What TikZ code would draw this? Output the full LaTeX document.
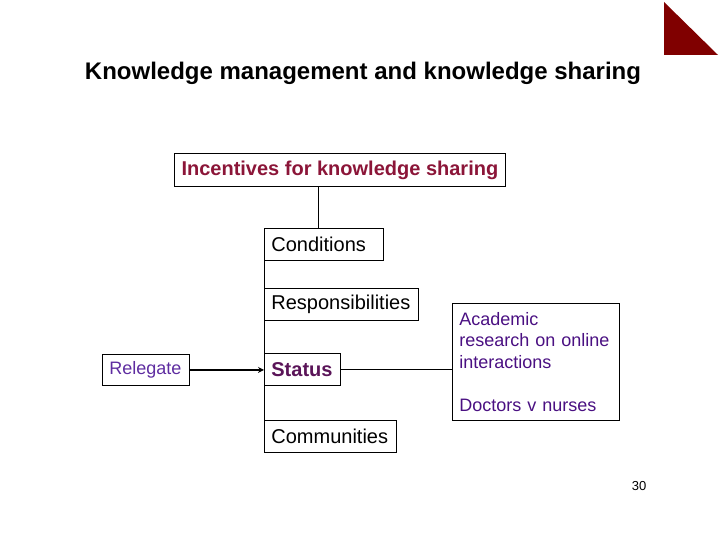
\documentclass[tikz,border=0pt]{standalone}
\usepackage{fontspec}
\setmainfont{Liberation Sans}
\usetikzlibrary{arrows.meta}
\definecolor{maroonT}{HTML}{8B1538}
\definecolor{relC}{HTML}{5E2CA0}
\definecolor{statC}{HTML}{5A1458}
\definecolor{acadC}{HTML}{4A1082}
\definecolor{triC}{HTML}{800000}
\tikzset{
  box/.style={draw=black, line width=0.8pt, anchor=north west, inner ysep=0pt, align=left},
  big/.style={font=\fontsize{20}{24}\selectfont},
  small/.style={font=\fontsize{18}{21.5}\selectfont},
  conn/.style={draw=black, line width=0.8pt}
}
\begin{document}
\begin{tikzpicture}[x=1pt,y=-1pt]
\useasboundingbox (0,0) rectangle (720,540);
\fill[triC] (664,2) -- (664,55) -- (718,55) -- cycle;
\node[font=\bfseries\fontsize{24}{28}\selectfont] (title) at (363,73) {Knowledge management and knowledge sharing};
\node[draw=black, line width=0.8pt, anchor=north west, inner sep=0pt, text=maroonT, font=\bfseries\fontsize{20}{24}\selectfont, minimum width=331pt, minimum height=33pt] (inc) at (174,153) {Incentives for knowledge sharing};
\node[box, big, inner xsep=7pt, text width=105pt, minimum height=32pt] (cond) at (264,228) {Conditions};
\node[box, big, inner xsep=7pt, text width=140pt, minimum height=32pt] (resp) at (264,288) {Responsibilities};
\node[box, big, text=statC, font=\bfseries\fontsize{20}{24}\selectfont, inner xsep=7pt, text width=62pt, minimum height=32pt] (stat) at (264,353) {Status};
\node[box, big, inner xsep=7pt, text width=118pt, minimum height=32pt] (comm) at (264,420) {Communities};
\node[box, small, text=relC, inner xsep=7pt, text width=73pt, minimum height=31pt] (rel) at (102,354) {Relegate};
\node[box, small, text=acadC, inner xsep=7pt, text width=153pt, minimum height=117pt] (acad) at (452,303) {Academic\\research on online\\interactions\\[21.5pt]Doctors v nurses};
\node[font=\fontsize{13}{15}\selectfont] (pg) at (639,486) {30};
\coordinate (jx) at (318,0);
\draw[conn] (inc.south -| jx) -- (cond.north -| jx);
\draw[conn] (cond.south west) -- (comm.north west);
\draw[conn, line width=2pt, -{Stealth[length=6pt,width=6pt]}] (rel.east) -- (rel.east -| stat.west);
\draw[conn] (stat.east) -- (stat.east -| acad.west);
\end{tikzpicture}
\end{document}
